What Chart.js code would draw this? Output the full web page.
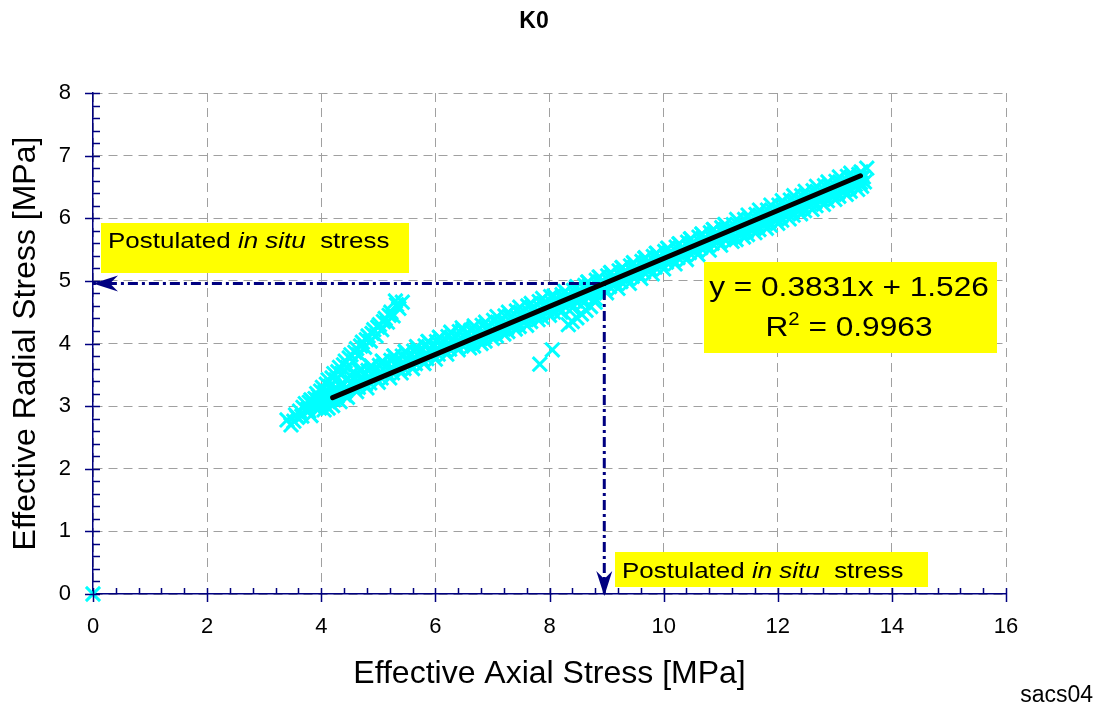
<!DOCTYPE html>
<html>
<head>
<meta charset="utf-8">
<title>K0</title>
<script src="https://cdn.jsdelivr.net/npm/chart.js@4.4.1/dist/chart.umd.min.js"></script>
<style>
    html, body { margin: 0; padding: 0; background: #ffffff; }
    #k0Chart { display: block; }
</style>
</head>
<body>
<canvas id="k0Chart" width="1101" height="706"></canvas>
<script>

// ==========================================
// K0 TEST DATA (MPa)
// ==========================================

// main loading branch, first pass
const axialMain = [
    3.78, 3.84, 3.90, 3.95, 4.00, 4.05, 4.10, 4.14, 4.20, 4.25, 4.28, 4.33, 4.38, 4.42, 4.46,
    4.50, 4.54, 4.58, 4.62, 4.68, 4.72, 4.77, 4.80, 4.88, 4.92, 4.96, 5.00,
    5.08, 5.12, 5.16, 5.20, 5.28, 5.32, 5.36, 5.40, 5.48, 5.52, 5.56, 5.60,
    5.68, 5.72, 5.76, 5.80, 5.88, 5.92, 5.96, 6.00, 6.08, 6.12, 6.16, 6.20,
    6.28, 6.32, 6.36, 6.40, 6.48, 6.52, 6.56, 6.60, 6.68, 6.72, 6.76, 6.80,
    6.88, 6.92, 6.96, 7.00, 7.08, 7.12, 7.16, 7.20, 7.28, 7.32, 7.36, 7.40,
    7.48, 7.52, 7.56, 7.60, 7.68, 7.72, 7.76, 7.80, 7.88, 7.92, 7.96, 8.00,
    8.08, 8.12, 8.16, 8.20, 8.28, 8.32, 8.36, 8.40, 8.48, 8.52, 8.56, 8.60,
    8.68, 8.72, 8.76, 8.80, 8.88, 8.92, 8.96, 9.00, 9.08, 9.12, 9.16, 9.20,
    9.28, 9.32, 9.36, 9.40, 9.48, 9.52, 9.56, 9.60, 9.68, 9.72, 9.76, 9.80,
    9.88, 9.92, 9.96, 10.00, 10.08, 10.12, 10.16, 10.20, 10.28, 10.32, 10.36, 10.40,
    10.48, 10.52, 10.56, 10.60, 10.68, 10.72, 10.76, 10.80, 10.88, 10.92, 10.96, 11.00,
    11.08, 11.12, 11.16, 11.20, 11.28, 11.32, 11.36, 11.40, 11.48, 11.52, 11.56, 11.60,
    11.68, 11.72, 11.76, 11.80, 11.88, 11.92, 11.96, 12.00, 12.08, 12.12, 12.16, 12.20,
    12.28, 12.32, 12.36, 12.40, 12.48, 12.52, 12.56, 12.60, 12.68, 12.72, 12.76, 12.80,
    12.88, 12.92, 12.96, 13.00, 13.08, 13.12, 13.16, 13.20, 13.28, 13.32, 13.36, 13.40,
    13.46, 13.50, 13.52
];
const radialMain = [
    2.92, 3.08, 2.98, 3.16, 3.04, 2.94, 3.22, 3.10, 3.01, 3.29, 3.16, 3.07, 3.36, 3.24, 3.14,
    3.49, 3.38, 3.30, 3.23, 3.57, 3.46, 3.35, 3.29, 3.64, 3.54, 3.44, 3.38,
    3.71, 3.62, 3.52, 3.45, 3.80, 3.70, 3.60, 3.53, 3.87, 3.76, 3.67, 3.60,
    3.94, 3.85, 3.75, 3.68, 4.03, 3.91, 3.82, 3.75, 4.09, 3.99, 3.90, 3.83,
    4.17, 4.06, 3.97, 3.90, 4.21, 4.10, 4.01, 3.93, 4.28, 4.18, 4.08, 4.00,
    4.34, 4.25, 4.16, 4.08, 4.43, 4.33, 4.23, 4.15, 4.50, 4.41, 4.31, 4.23,
    4.58, 4.48, 4.38, 4.29, 4.64, 4.55, 4.46, 4.38, 4.72, 4.63, 4.54, 4.45,
    4.76, 4.67, 4.58, 4.50, 4.83, 4.75, 4.66, 4.57, 4.91, 4.82, 4.73, 4.65,
    4.98, 4.90, 4.81, 4.72, 5.06, 4.97, 4.88, 4.81, 5.13, 5.05, 4.96, 4.88,
    5.21, 5.12, 5.04, 4.96, 5.28, 5.20, 5.11, 5.04, 5.37, 5.28, 5.19, 5.11,
    5.44, 5.35, 5.27, 5.19, 5.52, 5.43, 5.34, 5.27, 5.59, 5.51, 5.42, 5.34,
    5.67, 5.58, 5.50, 5.42, 5.74, 5.66, 5.57, 5.49, 5.82, 5.73, 5.65, 5.57,
    5.90, 5.81, 5.71, 5.63, 5.98, 5.88, 5.78, 5.70, 6.05, 5.96, 5.86, 5.77,
    6.13, 6.03, 5.93, 5.84, 6.21, 6.11, 6.01, 5.92, 6.28, 6.19, 6.09, 5.99,
    6.36, 6.26, 6.16, 6.07, 6.43, 6.34, 6.24, 6.14, 6.51, 6.41, 6.31, 6.22,
    6.58, 6.49, 6.39, 6.30, 6.66, 6.56, 6.46, 6.38, 6.72, 6.63, 6.54, 6.46,
    6.74, 6.66, 6.58
];

// main loading branch, second pass
const axialMain2 = [
    3.82, 3.87, 3.92, 3.97, 4.03, 4.07, 4.12, 4.17, 4.22, 4.30, 4.35, 4.40, 4.44,
    4.62, 4.64, 4.65, 4.67, 4.82, 4.84, 4.85, 4.87, 5.02, 5.04, 5.05, 5.07,
    5.22, 5.24, 5.25, 5.27, 5.42, 5.44, 5.45, 5.47, 5.62, 5.64, 5.65, 5.67,
    5.82, 5.84, 5.85, 5.87, 6.02, 6.04, 6.05, 6.07, 6.22, 6.24, 6.25, 6.27,
    6.42, 6.44, 6.45, 6.47, 6.62, 6.64, 6.65, 6.67, 6.82, 6.84, 6.85, 6.87,
    7.02, 7.04, 7.05, 7.07, 7.22, 7.24, 7.25, 7.27, 7.42, 7.44, 7.45, 7.47,
    7.62, 7.64, 7.65, 7.67, 7.82, 7.84, 7.85, 7.87, 8.02, 8.04, 8.05, 8.07,
    8.22, 8.24, 8.25, 8.27, 8.42, 8.44, 8.45, 8.47, 8.62, 8.64, 8.65, 8.67,
    8.82, 8.84, 8.85, 8.87, 9.02, 9.04, 9.05, 9.07, 9.22, 9.24, 9.25, 9.27,
    9.42, 9.44, 9.45, 9.47, 9.62, 9.64, 9.65, 9.67, 9.82, 9.84, 9.85, 9.87,
    10.02, 10.04, 10.05, 10.07, 10.22, 10.24, 10.25, 10.27, 10.42, 10.44, 10.45, 10.47,
    10.62, 10.64, 10.65, 10.67, 10.82, 10.84, 10.85, 10.87, 11.02, 11.04, 11.05, 11.07,
    11.22, 11.24, 11.25, 11.27, 11.42, 11.44, 11.45, 11.47, 11.62, 11.64, 11.65, 11.67,
    11.82, 11.84, 11.85, 11.87, 12.02, 12.04, 12.05, 12.07, 12.22, 12.24, 12.25, 12.27,
    12.42, 12.44, 12.45, 12.47, 12.62, 12.64, 12.65, 12.67, 12.82, 12.84, 12.85, 12.87,
    13.02, 13.04, 13.05, 13.07, 13.22, 13.24, 13.25, 13.27, 13.42, 13.44, 13.45, 13.47
];
const radialMain2 = [
    2.85, 3.00, 3.10, 2.97, 3.13, 3.02, 2.97, 3.20, 3.10, 3.23, 3.30, 3.18, 3.30,
    3.50, 3.40, 3.30, 3.57, 3.57, 3.47, 3.37, 3.64, 3.65, 3.55, 3.45, 3.72,
    3.73, 3.62, 3.53, 3.80, 3.80, 3.70, 3.60, 3.87, 3.88, 3.78, 3.68, 3.95,
    3.96, 3.85, 3.76, 4.03, 4.03, 3.93, 3.83, 4.10, 4.11, 4.01, 3.91, 4.18,
    4.19, 4.09, 3.99, 4.25, 4.21, 4.11, 4.02, 3.96, 4.29, 4.19, 4.10, 4.04,
    4.37, 4.27, 4.18, 4.12, 4.44, 4.34, 4.25, 4.19, 4.52, 4.42, 4.33, 4.27,
    4.60, 4.50, 4.41, 4.35, 4.67, 4.57, 4.48, 4.42, 4.75, 4.65, 4.56, 4.50,
    4.78, 4.70, 4.61, 4.83, 4.85, 4.77, 4.68, 4.90, 4.93, 4.85, 4.76, 4.98,
    5.01, 4.93, 4.84, 5.06, 5.08, 5.00, 4.91, 5.13, 5.16, 5.08, 4.99, 5.21,
    5.24, 5.16, 5.07, 5.29, 5.31, 5.23, 5.14, 5.36, 5.39, 5.31, 5.22, 5.44,
    5.47, 5.39, 5.30, 5.52, 5.54, 5.46, 5.37, 5.59, 5.62, 5.54, 5.45, 5.67,
    5.70, 5.62, 5.53, 5.75, 5.77, 5.69, 5.60, 5.82, 5.85, 5.77, 5.68, 5.90,
    5.90, 5.81, 5.72, 5.66, 5.98, 5.89, 5.80, 5.74, 6.06, 5.97, 5.88, 5.82,
    6.13, 6.04, 5.95, 5.89, 6.21, 6.12, 6.03, 5.97, 6.29, 6.20, 6.11, 6.05,
    6.36, 6.27, 6.18, 6.12, 6.44, 6.35, 6.26, 6.20, 6.52, 6.43, 6.34, 6.28,
    6.59, 6.50, 6.41, 6.35, 6.67, 6.58, 6.49, 6.43, 6.70, 6.64, 6.57, 6.51
];

// early, steeper branch
const axialBranch = [
    3.40, 3.47, 3.55, 3.52, 3.62, 3.66, 3.72, 3.76, 3.82, 3.86, 3.92, 3.96, 4.02, 4.06,
    4.12, 4.16, 4.22, 4.26, 4.32, 4.36, 4.42, 4.46, 4.52, 4.56, 4.62, 4.66, 4.72, 4.76,
    4.82, 4.86, 4.92, 4.96, 5.02, 5.06, 5.12, 5.16, 5.22, 5.26, 5.32, 5.36, 5.42, 5.30,
    3.58, 3.68, 3.79, 3.89, 3.99, 4.09, 4.19, 4.29, 4.39, 4.49, 4.59, 4.69, 4.79, 4.89,
    4.99, 5.09, 5.19
];
const radialBranch = [
    2.78, 2.70, 2.86, 2.76, 2.92, 2.84, 3.04, 2.95, 3.10, 3.02, 3.20, 3.10, 3.30, 3.22,
    3.42, 3.32, 3.52, 3.42, 3.62, 3.52, 3.72, 3.62, 3.82, 3.72, 3.92, 3.82, 4.02, 3.94,
    4.12, 4.04, 4.22, 4.12, 4.30, 4.22, 4.40, 4.34, 4.50, 4.44, 4.62, 4.56, 4.66, 4.68,
    2.82, 2.98, 3.06, 3.12, 3.24, 3.35, 3.45, 3.55, 3.66, 3.77, 3.86, 3.96, 4.06, 4.16,
    4.26, 4.35, 4.45
];

// zero reading and stray readings off the band
const axialStray = [0, 7.83, 8.05, 8.33, 8.40, 8.48, 8.56, 8.64, 8.72, 8.80, 13.56];
const radialStray = [0, 3.67, 3.90, 4.30, 4.35, 4.41, 4.47, 4.53, 4.59, 4.66, 6.80];

// linear fit
const fitSlope = 0.3831;
const fitIntercept = 1.526;
const fitR2 = 0.9963;
const fitRange = [4.20, 13.45];

// postulated in situ stress
const insituAxial = 8.96;
const insituRadial = 4.96;

// axis ticks
const xTickValues = [0, 2, 4, 6, 8, 10, 12, 14, 16];
const yTickValues = [0, 1, 2, 3, 4, 5, 6, 7, 8];
const xMinorStep = 0.4;
const yMinorStep = 0.2;

// ==========================================
// STYLE
// ==========================================

const NAVY = "#000080";
const CYAN = "#00ffff";
const YELLOW = "#ffff00";
const FONT = 'Arial, "Liberation Sans", Helvetica, sans-serif';

Chart.defaults.font.family = FONT;
Chart.defaults.color = "#000000";

const toPoints = (xs, ys) => xs.map((v, i) => ({ x: v, y: ys[i] }));

// text drawn a little wider than the font; parts are [text, style, raise, size]
function wideText(ctx, parts, x, baseline, size, stretch, align) {
    ctx.save();
    const fontOf = p => `${p[1]} ${p[3] || size}px ${FONT}`;
    let width = 0;
    parts.forEach(p => {
        ctx.font = fontOf(p);
        width += ctx.measureText(p[0]).width;
    });
    const startX = align === "center" ? x - width * stretch / 2 : x;
    ctx.translate(startX, baseline);
    ctx.scale(stretch, 1);
    ctx.textAlign = "left";
    ctx.textBaseline = "alphabetic";
    ctx.fillStyle = "#000000";
    let cx = 0;
    parts.forEach(p => {
        ctx.font = fontOf(p);
        ctx.fillText(p[0], cx, -(p[2] || 0));
        cx += ctx.measureText(p[0]).width;
    });
    ctx.restore();
}

// filled arrow head, tip at (tx, ty), pointing along (dx, dy)
function arrowHead(ctx, tx, ty, dx, dy) {
    const len = 25, half = 8, notch = 17;
    const nx = -dy, ny = dx;
    ctx.beginPath();
    ctx.moveTo(tx, ty);
    ctx.lineTo(tx - dx * len + nx * half, ty - dy * len + ny * half);
    ctx.lineTo(tx - dx * notch, ty - dy * notch);
    ctx.lineTo(tx - dx * len - nx * half, ty - dy * len - ny * half);
    ctx.closePath();
    ctx.fill();
}

const annotations = {
    id: "annotations",
    afterDatasetsDraw(chart) {
        const { ctx, scales: { x, y } } = chart;

        // arrow heads at the ends of the in situ guide lines
        ctx.save();
        ctx.fillStyle = NAVY;
        arrowHead(ctx, x.getPixelForValue(0), y.getPixelForValue(insituRadial), -1, 0);
        arrowHead(ctx, x.getPixelForValue(insituAxial), y.getPixelForValue(0) + 2, 0, 1);
        ctx.restore();

        // label boxes
        ctx.save();
        ctx.fillStyle = YELLOW;
        ctx.fillRect(101, 223, 308, 50);
        ctx.fillRect(615, 552, 313, 35);
        ctx.fillRect(704, 262, 293, 91);
        ctx.restore();

        const insituParts = [["Postulated ", "normal"], ["in situ", "italic"], ["  stress", "normal"]];
        wideText(ctx, insituParts, 108, 248, 22, 1.18, "left");
        wideText(ctx, insituParts, 622, 578, 22, 1.18, "left");

        wideText(ctx, [["y = " + fitSlope + "x + " + fitIntercept, "normal"]], 849, 296, 28, 1.13, "center");
        wideText(ctx, [["R", "normal"], ["2", "normal", 11, 18], [" = " + fitR2, "normal"]], 849, 336, 28, 1.13, "center");
    },
    afterDraw(chart) {
        const { ctx, scales: { x, y } } = chart;
        const x0 = x.getPixelForValue(0);
        const y0 = y.getPixelForValue(0);

        // axis tick marks, major crossing the axis, minor inside
        ctx.save();
        ctx.strokeStyle = NAVY;
        ctx.lineWidth = 1.5;
        ctx.beginPath();
        const nx = Math.round((x.max - x.min) / xMinorStep);
        for (let i = 0; i <= nx; i++) {
            const px = Math.round(x.getPixelForValue(x.min + i * xMinorStep)) + 0.5;
            const major = i % 5 === 0;
            ctx.moveTo(px, y0 - 6);
            ctx.lineTo(px, major ? y0 + 8 : y0);
        }
        const ny = Math.round((y.max - y.min) / yMinorStep);
        for (let i = 0; i <= ny; i++) {
            const py = Math.round(y.getPixelForValue(y.min + i * yMinorStep)) + 0.5;
            const major = i % 5 === 0;
            ctx.moveTo(major ? x0 - 8 : x0, py);
            ctx.lineTo(x0 + 7, py);
        }
        ctx.stroke();
        ctx.restore();

        // chart title and sheet tag
        ctx.save();
        ctx.fillStyle = "#000000";
        ctx.textBaseline = "alphabetic";
        ctx.textAlign = "center";
        ctx.font = `bold 23px ${FONT}`;
        ctx.fillText("K0", 534, 28);
        ctx.textAlign = "right";
        ctx.font = `23px ${FONT}`;
        ctx.fillText("sacs04", 1093, 702);
        ctx.restore();
    }
};

// ==========================================
// K0 SCATTER CHART
// ==========================================

const k0Chart = document.getElementById("k0Chart");

new Chart(k0Chart, {

    type: "scatter",

    data: {

        datasets: [

            {
                label: "Linear fit",
                data: fitRange.map(v => ({ x: v, y: fitSlope * v + fitIntercept })),
                showLine: true,
                borderColor: "#000000",
                borderWidth: 5,
                borderCapStyle: "round",
                pointRadius: 0,
                order: 0
            },

            {
                label: "Postulated in situ stress",
                data: [
                    { x: insituAxial, y: 0 },
                    { x: insituAxial, y: insituRadial },
                    { x: 0, y: insituRadial }
                ],
                showLine: true,
                borderColor: NAVY,
                borderWidth: 3,
                borderDash: [10, 4, 3, 4],
                pointRadius: 0,
                clip: false,
                order: 1
            },

            {
                label: "Readings",
                data: toPoints(axialMain, radialMain)
                    .concat(toPoints(axialMain2, radialMain2))
                    .concat(toPoints(axialBranch, radialBranch))
                    .concat(toPoints(axialStray, radialStray)),
                pointStyle: "crossRot",
                pointRadius: 10,
                pointBorderWidth: 3,
                borderColor: CYAN,
                backgroundColor: CYAN,
                clip: false,
                order: 2
            }

        ]

    },

    options: {

        responsive: false,

        animation: false,

        layout: {
            padding: { top: 93, right: 95, bottom: 0, left: 0 }
        },

        plugins: {
            legend: { display: false },
            tooltip: { enabled: false },
            title: { display: false }
        },

        scales: {

            x: {
                type: "linear",
                min: 0,
                max: 16,
                afterBuildTicks: s => { s.ticks = xTickValues.map(v => ({ value: v })); },
                afterFit: s => { s.height = 112; },
                ticks: {
                    padding: 20,
                    font: { size: 22 },
                    maxRotation: 0
                },
                grid: {
                    color: "#a0a0a0",
                    lineWidth: 1,
                    drawTicks: false
                },
                border: {
                    color: NAVY,
                    width: 1.5,
                    dash: [9, 6]
                },
                title: {
                    display: true,
                    text: "Effective Axial Stress [MPa]",
                    font: { size: 32 },
                    padding: { top: 0, bottom: 13 }
                }
            },

            y: {
                type: "linear",
                min: 0,
                max: 8,
                afterBuildTicks: s => { s.ticks = yTickValues.map(v => ({ value: v })); },
                afterFit: s => { s.width = 93; },
                ticks: {
                    padding: 22,
                    font: { size: 22 }
                },
                grid: {
                    color: "#a0a0a0",
                    lineWidth: 1,
                    drawTicks: false
                },
                border: {
                    color: NAVY,
                    width: 1.5,
                    dash: [9, 6]
                },
                title: {
                    display: true,
                    text: "Effective Radial Stress [MPa]",
                    font: { size: 32 },
                    padding: { top: 7, bottom: 0 }
                }
            }

        }

    },

    plugins: [annotations]

});

</script>
</body>
</html>
